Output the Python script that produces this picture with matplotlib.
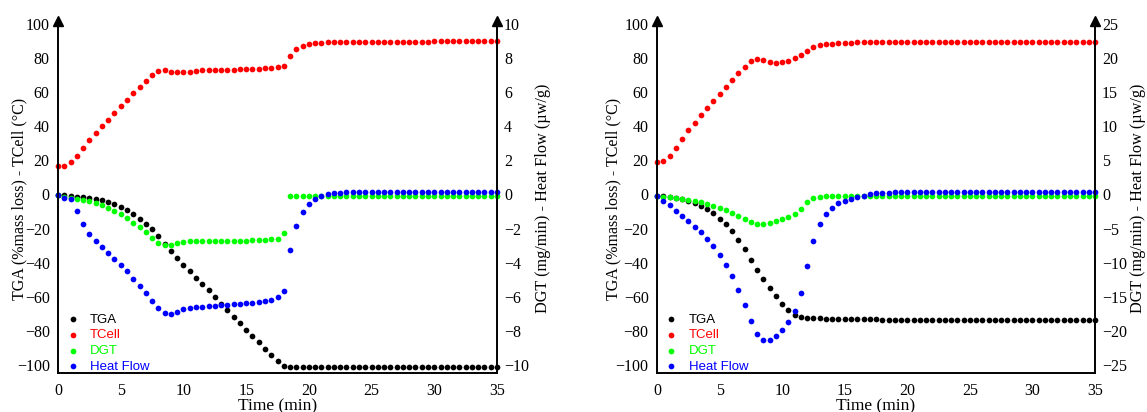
import numpy as np
import matplotlib.pyplot as plt

# time grid: one reading every 0.5 min, 0 to 35 min
time = np.arange(0, 35.5, 0.5)

# ---- left panel ----
tga_a = [-0.3, -0.5, -0.8, -1.2, -1.6, -2.1, -2.7, -3.3, -4.5, -5.7,
         -7.2, -9.2, -11.5, -14.2, -17.2, -20.5, -24.6, -28.9, -32.9, -37.0,
         -41.1, -45.0, -48.9, -52.6, -56.3, -60.4, -64.3, -67.8, -71.7, -75.4,
         -79.3, -82.8, -86.7, -90.4, -94.2, -97.5, -100.6, -101.0, -101.0, -101.0,
         -101.0, -101.0, -101.0, -101.0, -101.0, -101.0, -101.0, -101.0, -101.0, -101.0,
         -101.0, -101.0, -101.0, -101.0, -101.0, -101.0, -101.0, -101.0, -101.0, -101.0,
         -101.0, -101.0, -101.0, -101.0, -101.0, -101.0, -101.0, -101.0, -101.0, -101.0,
         -101.0]
tcell_a = [16.6, 16.6, 18.9, 22.8, 27.5, 31.8, 35.9, 40.0, 43.9, 48.0,
           51.9, 55.6, 59.5, 63.2, 66.7, 70.2, 72.5, 72.9, 72.1, 71.7,
           71.7, 72.1, 72.5, 72.9, 73.1, 73.1, 73.3, 73.3, 73.3, 73.5,
           73.5, 73.7, 73.9, 74.1, 74.1, 74.5, 75.6, 81.3, 85.2, 87.1,
           88.5, 88.9, 89.1, 89.2, 89.3, 89.3, 89.4, 89.4, 89.5, 89.5,
           89.5, 89.6, 89.6, 89.6, 89.6, 89.7, 89.7, 89.7, 89.7, 89.7,
           89.8, 89.8, 89.8, 89.8, 89.8, 89.8, 89.8, 89.8, 89.8, 89.8,
           89.8]
dgt_a = [-0.04, -0.14, -0.20, -0.25, -0.33, -0.41, -0.51, -0.62, -0.78, -0.94,
         -1.15, -1.40, -1.66, -1.93, -2.20, -2.53, -2.83, -2.98, -2.94, -2.83,
         -2.79, -2.75, -2.75, -2.75, -2.75, -2.75, -2.75, -2.75, -2.73, -2.71,
         -2.71, -2.69, -2.67, -2.65, -2.63, -2.59, -2.28, -0.08, -0.08, -0.08,
         -0.08, -0.08, -0.08, -0.08, -0.08, -0.08, -0.08, -0.08, -0.08, -0.08,
         -0.08, -0.08, -0.08, -0.08, -0.08, -0.08, -0.08, -0.08, -0.08, -0.08,
         -0.08, -0.08, -0.08, -0.08, -0.08, -0.08, -0.08, -0.08, -0.08, -0.08,
         -0.08]
hf_a = [-0.04, -0.20, -0.29, -0.99, -1.72, -2.30, -2.73, -3.10, -3.43, -3.76,
        -4.11, -4.50, -4.93, -5.36, -5.79, -6.22, -6.65, -6.94, -7.00, -6.88,
        -6.74, -6.65, -6.61, -6.59, -6.57, -6.55, -6.51, -6.47, -6.45, -6.41,
        -6.37, -6.34, -6.30, -6.22, -6.16, -6.04, -5.69, -3.24, -1.84, -1.03,
        -0.55, -0.27, -0.10, 0.00, 0.06, 0.10, 0.12, 0.14, 0.15, 0.15,
        0.15, 0.15, 0.15, 0.15, 0.15, 0.15, 0.15, 0.15, 0.15, 0.15,
        0.15, 0.15, 0.15, 0.15, 0.15, 0.15, 0.15, 0.15, 0.15, 0.15,
        0.15]

# ---- right panel ----
tga_b = [-0.6, -0.9, -1.4, -2.1, -2.7, -3.6, -4.9, -6.6, -8.4, -10.9,
         -14.1, -17.4, -21.6, -26.5, -32.2, -38.2, -44.1, -49.6, -54.9, -59.7,
         -64.1, -68.0, -70.8, -71.8, -72.2, -72.5, -72.7, -72.8, -72.9, -73.0,
         -73.1, -73.1, -73.2, -73.2, -73.3, -73.3, -73.4, -73.4, -73.4, -73.5,
         -73.5, -73.5, -73.5, -73.5, -73.6, -73.6, -73.6, -73.6, -73.6, -73.6,
         -73.6, -73.6, -73.7, -73.7, -73.7, -73.7, -73.7, -73.7, -73.7, -73.7,
         -73.7, -73.7, -73.7, -73.7, -73.7, -73.7, -73.7, -73.7, -73.7, -73.7,
         -73.7]
tcell_b = [18.9, 19.7, 22.6, 27.5, 32.7, 37.6, 41.9, 46.4, 50.7, 55.0,
           59.1, 63.2, 67.3, 71.2, 75.0, 78.2, 79.3, 79.0, 78.0, 77.4,
           77.6, 78.4, 79.9, 81.9, 84.2, 86.3, 87.5, 88.1, 88.5, 88.7,
           88.9, 89.1, 89.3, 89.5, 89.5, 89.6, 89.6, 89.7, 89.7, 89.7,
           89.7, 89.7, 89.7, 89.7, 89.7, 89.7, 89.7, 89.7, 89.7, 89.7,
           89.7, 89.7, 89.7, 89.7, 89.7, 89.7, 89.7, 89.7, 89.7, 89.7,
           89.7, 89.7, 89.7, 89.7, 89.7, 89.7, 89.7, 89.7, 89.7, 89.7,
           89.7]
dgt_b = [-0.24, -0.34, -0.44, -0.54, -0.63, -0.78, -0.97, -1.17, -1.41, -1.70,
         -2.00, -2.34, -2.73, -3.12, -3.55, -4.05, -4.34, -4.34, -4.19, -3.90,
         -3.60, -3.31, -2.88, -2.10, -1.13, -0.54, -0.34, -0.29, -0.29, -0.28,
         -0.27, -0.26, -0.25, -0.24, -0.23, -0.22, -0.22, -0.21, -0.21, -0.20,
         -0.20, -0.20, -0.20, -0.20, -0.20, -0.20, -0.20, -0.20, -0.20, -0.20,
         -0.20, -0.20, -0.20, -0.20, -0.20, -0.20, -0.20, -0.20, -0.20, -0.20,
         -0.20, -0.20, -0.20, -0.20, -0.20, -0.20, -0.20, -0.20, -0.20, -0.20,
         -0.20]
hf_b = [-0.15, -1.0, -1.6, -2.35, -3.18, -3.95, -4.73, -5.5, -6.47, -7.55,
        -8.8, -10.3, -12.0, -14.0, -16.2, -18.5, -20.4, -21.3, -21.35, -20.7,
        -19.85, -18.7, -17.1, -14.4, -10.5, -6.8, -4.4, -2.9, -2.0, -1.3,
        -0.93, -0.63, -0.39, -0.15, 0.05, 0.15, 0.25, 0.28, 0.32, 0.34,
        0.35, 0.35, 0.35, 0.35, 0.35, 0.35, 0.35, 0.35, 0.35, 0.35,
        0.35, 0.35, 0.35, 0.35, 0.35, 0.35, 0.35, 0.35, 0.35, 0.35,
        0.35, 0.35, 0.35, 0.35, 0.35, 0.35, 0.35, 0.35, 0.35, 0.35,
        0.35]

labels = ["TGA", "TCell", "DGT", "Heat Flow"]
colors = ["black", "#ff0000", "#00ff00", "#0000ff"]

SERIF = "Liberation Serif"
SANS = "Liberation Sans"

fig = plt.figure(figsize=(11.47, 4.12), dpi=100)


def draw_panel(rect, tga, tcell, dgt, hf, rmax, rstep, lx, rx):
    ax = fig.add_axes(rect)
    ax2 = ax.twinx()
    ylo = -104.7
    ax.set_xlim(0, 35)
    ax.set_ylim(ylo, 100)
    ax2.set_ylim(ylo * rmax / 100, rmax)

    pts = dict(s=17, linewidths=0, clip_on=False)
    h1 = ax.scatter(time, tga, color=colors[0], **pts)
    h2 = ax.scatter(time, tcell, color=colors[1], **pts)
    h3 = ax2.scatter(time, dgt, color=colors[2], **pts)
    h4 = ax2.scatter(time, hf, color=colors[3], **pts)

    ax.set_xticks(np.arange(0, 36, 5))
    ax.set_yticks(np.arange(-100, 101, 20))
    ax2.set_yticks(np.arange(-rmax, rmax + 0.1, rstep))
    for a in (ax, ax2):
        a.spines["top"].set_visible(False)
        for s in a.spines.values():
            s.set_linewidth(1.2)
        a.tick_params(length=0, labelsize=11.5)
        for lab in a.get_xticklabels() + a.get_yticklabels():
            lab.set_fontfamily(SERIF)
    ax.tick_params(axis="y", pad=6)
    ax.tick_params(axis="x", pad=7)
    ax2.tick_params(axis="y", pad=5)

    ax.set_xlabel("Time (min)", fontfamily=SERIF, fontsize=12.5)
    ax.xaxis.set_label_coords(0.5, -0.072)
    ax.set_ylabel("TGA (%mass loss) - TCell (°C)", fontfamily=SERIF,
                  fontsize=11.5, va="center")
    ax.yaxis.set_label_coords(lx, 0.5)
    ax2.set_ylabel("DGT (mg/min) - Heat Flow (µw/g)", fontfamily=SERIF,
                   fontsize=11.7, va="center")
    ax2.yaxis.set_label_coords(rx, 0.5)

    # arrow heads on top of both vertical axes
    for xa in (0, 1):
        ax2.plot([xa], [1.008], marker="^", color="black", markersize=7,
                 transform=ax2.transAxes, clip_on=False)

    leg = ax2.legend([h1, h2, h3, h4], labels, loc="lower left",
                     bbox_to_anchor=(0.012, -0.003),
                     frameon=False, prop={"family": SANS, "size": 9.5},
                     handletextpad=0.7, labelspacing=0.26, borderpad=0.1,
                     borderaxespad=0.0, handlelength=1.2, scatterpoints=1)
    for txt, c in zip(leg.get_texts(), colors):
        txt.set_color(c)


draw_panel([0.0506, 0.0947, 0.3827, 0.847], tga_a, tcell_a, dgt_a, hf_a,
           10, 2, -0.089, 1.104)
draw_panel([0.5728, 0.0947, 0.3819, 0.847], tga_b, tcell_b, dgt_b, hf_b,
           25, 5, -0.099, 1.098)

fig.savefig("out.png", dpi=100)
